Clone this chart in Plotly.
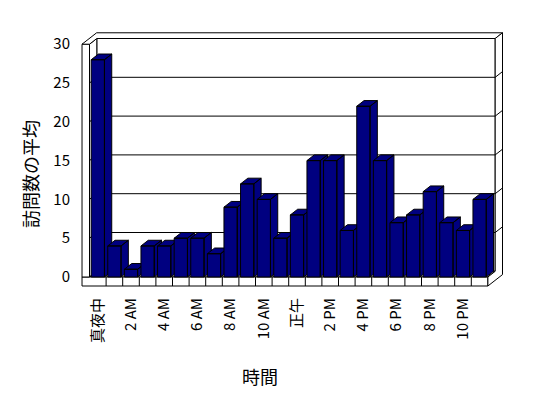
import plotly.graph_objects as go

# ---- data ----
categories = ["真夜中", "1 AM", "2 AM", "3 AM", "4 AM", "5 AM", "6 AM", "7 AM",
              "8 AM", "9 AM", "10 AM", "11 AM", "正午", "1 PM", "2 PM", "3 PM",
              "4 PM", "5 PM", "6 PM", "7 PM", "8 PM", "9 PM", "10 PM", "11 PM"]
values = [28, 4, 1, 4, 4, 5, 5, 3, 9, 12, 10, 5, 8, 15, 15, 6, 22, 15, 7, 8, 11, 7, 6, 10]
tick_labels = categories[::2]
y_ticks = [0, 5, 10, 15, 20, 25, 30]
x_title = "時間"
y_title = "訪問数の平均"

# ---- style / geometry ----
NAVY = "#000080"
FONT = "Noto Sans CJK JP"
DX, DY = 0.44, 0.735      # oblique depth vector in axis units
W = 0.80                  # bar front width (category units)
YMAX = 30
N = len(categories)
LEFT = -0.5
RIGHT = N - 0.5
WALL = 0.45
FLOOR = -1.16

fig = go.Figure()

# bars (front, side, top faces), drawn left to right
for i, v in enumerate(values):
    x0, x1 = i - W / 2, i + W / 2
    xs = [x0, x1, x1, x0, x0, None,
          x1, x1 + DX, x1 + DX, x1, x1, None,
          x0, x1, x1 + DX, x0 + DX, x0]
    ys = [0, 0, v, v, 0, None,
          0, DY, v + DY, v, 0, None,
          v, v, v + DY, v + DY, v]
    fig.add_trace(go.Scatter(x=xs, y=ys, mode="lines", fill="toself",
                             fillcolor=NAVY, line=dict(color="black", width=1),
                             hoverinfo="skip", showlegend=False))


def path(pts):
    return "M " + " L ".join(f"{x},{y}" for x, y in pts) + " Z"


line = dict(color="black", width=1)
shapes = []


def poly(pts):
    shapes.append(dict(type="path", xref="x", yref="y", layer="below",
                       path=path(pts), fillcolor="white", line=line))


def seg(a, b):
    shapes.append(dict(type="line", xref="x", yref="y", layer="below",
                       x0=a[0], y0=a[1], x1=b[0], y1=b[1], line=line))


OL = LEFT - WALL
# back wall face
poly([(LEFT + DX, DY), (RIGHT + DX, DY), (RIGHT + DX, YMAX + DY), (LEFT + DX, YMAX + DY)])
# left wall inner face
poly([(LEFT, 0), (LEFT, YMAX), (LEFT + DX, YMAX + DY), (LEFT + DX, DY)])
# floor top
poly([(LEFT, 0), (RIGHT, 0), (RIGHT + DX, DY), (LEFT + DX, DY)])
# floor front face
poly([(OL, FLOOR), (RIGHT, FLOOR), (RIGHT, 0), (OL, 0)])
# left wall front face
poly([(OL, 0), (OL, YMAX), (LEFT, YMAX), (LEFT, 0)])
# wall tops
poly([(OL, YMAX), (OL + 2 * DX, YMAX + 2 * DY), (RIGHT + 2 * DX, YMAX + 2 * DY),
      (RIGHT + DX, YMAX + DY), (LEFT + DX, YMAX + DY), (LEFT, YMAX)])
# right side faces (floor + back wall)
poly([(RIGHT, FLOOR), (RIGHT, 0), (RIGHT + DX, DY), (RIGHT + DX, YMAX + DY),
      (RIGHT + 2 * DX, YMAX + 2 * DY), (RIGHT + 2 * DX, FLOOR + 2 * DY)])

# gridlines
for t in y_ticks[1:-1]:
    seg((LEFT + DX, t + DY), (RIGHT + DX, t + DY))
    seg((LEFT, t), (LEFT + DX, t + DY))
    seg((RIGHT + DX, t + DY), (RIGHT + 2 * DX, t + 2 * DY))
# floor tick separators
for k in range(N - 1):
    seg((k + 0.5, FLOOR), (k + 0.5, 0))

annotations = [
    dict(text=x_title, xref="x", yref="paper", x=9.75, y=-0.30,
         xanchor="center", yanchor="middle", showarrow=False,
         font=dict(family=FONT, size=18, color="black")),
    dict(text=y_title, xref="paper", yref="y", x=-0.091, y=13.3,
         xanchor="center", yanchor="middle", showarrow=False, textangle=-90,
         font=dict(family=FONT, size=18, color="black")),
]

# page body has an 8px margin, so the figure is placed 8px right/down
OFF = 8
FW, FH = 540, 390
# target pixel mapping (in window): category 0 centre at x=97.8px, 16.6 px/category;
# value 0 at y=277px, 7.76 px/unit
L, R, T, B = 71 - OFF, 520 - OFF, 20 - OFF, 294 - OFF
X0PX, Y0PX = 97.8 - OFF, 277 - OFF
fig.update_layout(
    width=FW, height=FH,
    margin=dict(l=L, r=FW - R, t=T, b=FH - B),
    paper_bgcolor="white", plot_bgcolor="white",
    shapes=shapes, annotations=annotations,
    font=dict(family=FONT, color="black"),
    xaxis=dict(range=[(L - X0PX) / 16.6, (R - X0PX) / 16.6],
               tickvals=list(range(0, N, 2)), ticktext=tick_labels,
               tickangle=-90, showgrid=False, zeroline=False, showline=False,
               ticks="", tickfont=dict(family=FONT, size=15, color="black")),
    yaxis=dict(range=[(Y0PX - B) / 7.76, (Y0PX - T) / 7.76],
               tickvals=y_ticks, ticktext=[str(t) for t in y_ticks],
               showgrid=False, zeroline=False, showline=False, ticks="",
               tickfont=dict(family=FONT, size=15, color="black")),
)

fig.write_html("out.html")
